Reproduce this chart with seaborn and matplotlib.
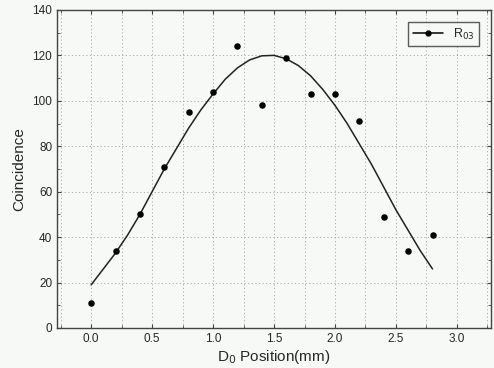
import numpy as np
import pandas as pd
import matplotlib
matplotlib.use("Agg")
import matplotlib.pyplot as plt
from matplotlib.lines import Line2D
from matplotlib.ticker import MultipleLocator
import seaborn as sns

# measured points
pos = [0.0, 0.2, 0.4, 0.6, 0.8, 1.0, 1.2, 1.4, 1.6, 1.8, 2.0, 2.2, 2.4, 2.6, 2.8]
coinc = [11, 34, 50, 71, 95, 104, 124, 98, 119, 103, 103, 91, 49, 34, 41]

# fitted curve
fit_x = [0.0, 0.1, 0.2, 0.3, 0.4, 0.5, 0.6, 0.7, 0.8, 0.9, 1.0, 1.1, 1.2, 1.3, 1.4,
         1.5, 1.6, 1.7, 1.8, 1.9, 2.0, 2.1, 2.2, 2.3, 2.4, 2.5, 2.6, 2.7, 2.8]
fit_y = [19, 26, 33, 41, 50, 60, 70, 79, 88, 96, 103, 109.5, 114.5, 118, 119.8,
         120, 118.5, 115.5, 111, 105, 98, 90, 81, 72, 62, 52, 43, 34, 26]

pts = pd.DataFrame({'pos': pos, 'coinc': coinc})
fit = pd.DataFrame({'x': fit_x, 'y': fit_y})

sns.set_style("ticks")
plt.rcParams['font.family'] = ['Liberation Sans', 'DejaVu Sans']
bg = '#f6f9f6'

fig = plt.figure(figsize=(4.94, 3.68), dpi=100, facecolor=bg)
ax = fig.add_axes([0.1154, 0.1087, 0.8786, 0.8643])
ax.set_facecolor(bg)

sns.lineplot(data=fit, x='x', y='y', ax=ax, color='#222222', lw=1.1, legend=False)
sns.scatterplot(data=pts, x='pos', y='coinc', ax=ax, color='black', s=22,
                edgecolor='black', linewidth=0, legend=False, zorder=3)

ax.set_xlim(-0.28, 3.28)
ax.set_ylim(0, 140)
ax.xaxis.set_major_locator(MultipleLocator(0.5))
ax.xaxis.set_minor_locator(MultipleLocator(0.25))
ax.yaxis.set_major_locator(MultipleLocator(20))
ax.yaxis.set_minor_locator(MultipleLocator(10))
ax.xaxis.set_major_formatter(matplotlib.ticker.FormatStrFormatter('%.1f'))

ax.grid(which='major', color='#aaaaaa', ls=(0, (1.2, 2.5)), lw=0.7)
ax.grid(which='minor', axis='x', color='#aaaaaa', ls=(0, (1.2, 2.5)), lw=0.7)
ax.tick_params(which='both', direction='in', top=True, right=True, labelsize=8.5,
               color='#444444')
ax.tick_params(which='major', length=3)
ax.tick_params(which='minor', length=2)
for s in ax.spines.values():
    s.set_color('#444444')
    s.set_linewidth(1.0)

ax.set_xlabel('D$_0$ Position(mm)', fontsize=11, labelpad=2)
ax.set_ylabel('Coincidence', fontsize=11, labelpad=4)

h = Line2D([], [], color='black', lw=1.1, marker='o', markersize=3.5)
leg = ax.legend([h], ['R$_{03}$'], loc='upper right', fontsize=9, frameon=True,
                fancybox=False, edgecolor='#333333', facecolor=bg,
                handlelength=2.4, borderaxespad=1.0, borderpad=0.35)
leg.get_frame().set_linewidth(1.0)

fig.savefig('out.png', dpi=100, facecolor=bg)
